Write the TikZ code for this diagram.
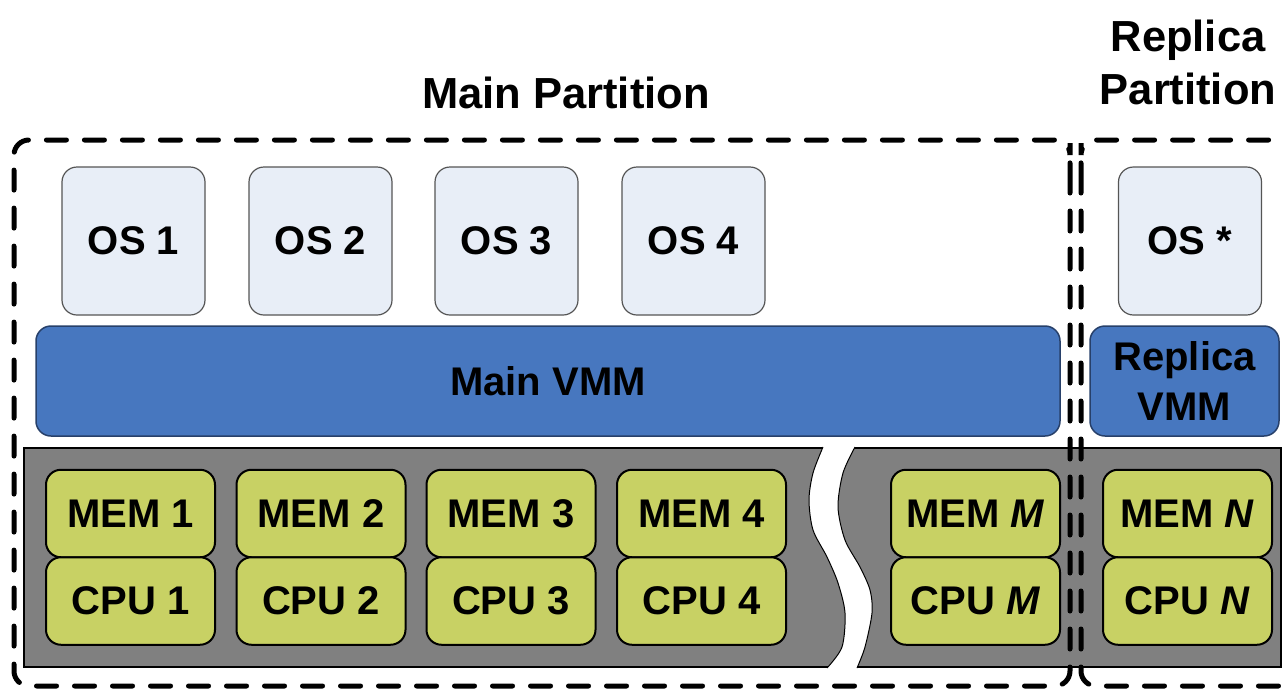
\documentclass[tikz,border=0pt]{standalone}
\usepackage{fontspec}
\setmainfont{Liberation Sans}
\definecolor{osfill}{HTML}{E8EEF7}
\definecolor{osedge}{HTML}{555555}
\definecolor{vmmfill}{HTML}{4777BF}
\definecolor{vmmedge}{HTML}{27406A}
\definecolor{hwfill}{HTML}{C8D164}
\definecolor{bandgray}{HTML}{808080}

\begin{document}

\begin{tikzpicture}[x=1pt,y=-1pt,
  font=\fontsize{40}{48}\selectfont\bfseries,
  osbox/.style={draw=osedge, line width=1.2pt, fill=osfill, rounded corners=15pt,
    minimum width=143pt, minimum height=148pt, inner sep=0pt},
  vmmbox/.style={draw=vmmedge, line width=1.5pt, fill=vmmfill, rounded corners=15pt,
    minimum height=110pt, inner sep=0pt, align=center},
  hwbox/.style={draw=black, line width=2pt, fill=hwfill, rounded corners=15pt,
    minimum width=169pt, minimum height=87.5pt, inner sep=0pt},
  partbox/.style={draw=black, line width=5pt, line cap=round,
    dash pattern=on 20pt off 18pt, rounded corners=15pt},
  title/.style={font=\fontsize{43.5}{53}\selectfont\bfseries, align=center, inner sep=0pt}]

\useasboundingbox (0,0) rectangle (1283,689);
\clip (0,0) rectangle (1283,689);

% hardware band with a break
\draw[fill=bandgray, line width=1.5pt] (24,448) rectangle (1281,667);
\fill[white] (823,444) -- plot[smooth] coordinates {(823,447) (813,473) (809,500) (813,530) (827,557) (838,583) (845,613) (842,647) (827,668)}
  -- (827,671) -- (857,671)
  -- plot[smooth] coordinates {(857,668) (865,647) (872,613) (870,590) (860,567) (845,540) (838,507) (843,473) (855,447)}
  -- (855,444) -- cycle;
\draw[line width=1pt] plot[smooth] coordinates {(823,447) (813,473) (809,500) (813,530) (827,557) (838,583) (845,613) (842,647) (827,668)};
\draw[line width=1pt] plot[smooth] coordinates {(857,668) (865,647) (872,613) (870,590) (860,567) (845,540) (838,507) (843,473) (855,447)};

% memory and CPU units
\node[hwbox] (mem1) at (130.5,513.5) {MEM 1};
\node[hwbox] (cpu1) at (130.5,601) {CPU 1};
\node[hwbox] (mem2) at (321,513.5) {MEM 2};
\node[hwbox] (cpu2) at (321,601) {CPU 2};
\node[hwbox] (mem3) at (511,513.5) {MEM 3};
\node[hwbox] (cpu3) at (511,601) {CPU 3};
\node[hwbox] (mem4) at (701.5,513.5) {MEM 4};
\node[hwbox] (cpu4) at (701.5,601) {CPU 4};
\node[hwbox] (memM) at (975.5,513.5) {MEM \textit{M}};
\node[hwbox] (cpuM) at (975.5,601) {CPU \textit{M}};
\node[hwbox] (memN) at (1187.5,513.5) {MEM \textit{N}};
\node[hwbox] (cpuN) at (1187.5,601) {CPU \textit{N}};

% monitors
\node[vmmbox, minimum width=1024pt] (mainvmm) at (548,381) {Main VMM};
\node[vmmbox, minimum width=189pt, font=\fontsize{40}{50}\selectfont\bfseries] (repvmm) at (1184.5,381) {Replica\\VMM};

% guest systems
\node[osbox] (os1) at (133.5,241) {OS 1};
\node[osbox] (os2) at (320.5,241) {OS 2};
\node[osbox] (os3) at (506.5,241) {OS 3};
\node[osbox] (os4) at (693.5,241) {OS 4};
\node[osbox] (osstar) at (1190,241) {OS *};

% partitions: both start on their shared side so the two dashed lines run in step
\draw[partbox] (1070,158) -- (1070,686) -- (14,686) -- (14,140) -- (1070,140) -- cycle;
\draw[partbox] (1081,158) -- (1081,686) -- (1320,686) -- (1320,140) -- (1081,140) -- cycle;

\node[title] (maintitle) at (566,93) {Main Partition};
\node[title] (reptitle) at (1188,62) {Replica\\Partition};
\end{tikzpicture}

\end{document}
